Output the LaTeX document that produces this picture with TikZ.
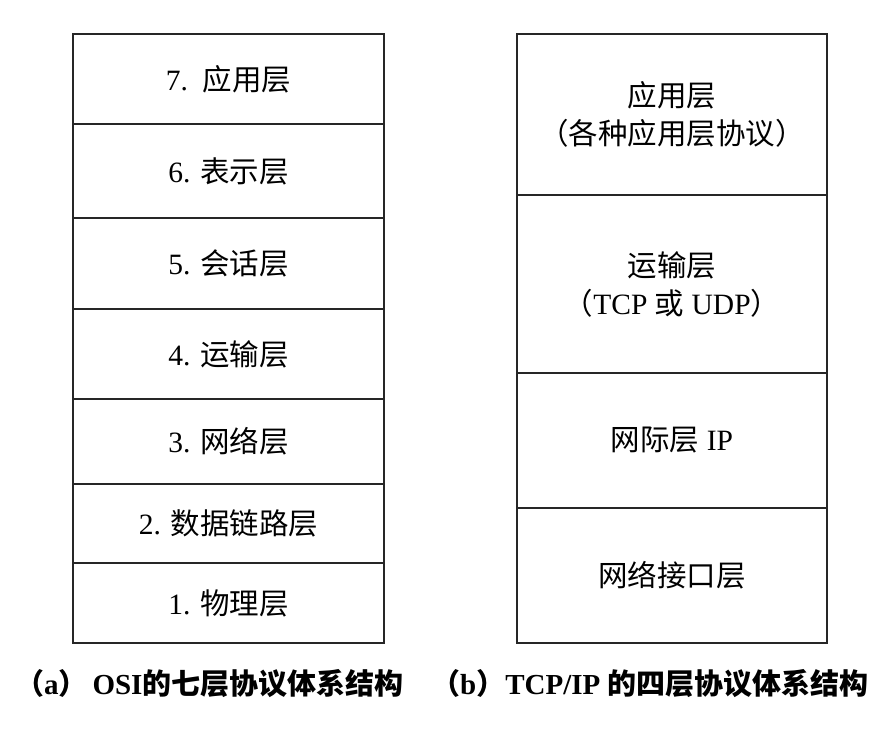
\documentclass[tikz,border=0pt]{standalone}
\usepackage{fontspec}
\setmainfont{Liberation Serif}
\newfontfamily\cjk{Noto Sans CJK SC}
\begin{document}
\begin{tikzpicture}[x=1pt,y=-1pt]
    \tikzset{
        layer/.style={draw=black!85, line width=2pt, minimum width=311pt, inner sep=0pt, align=center, font=\fontsize{29.5}{38}\selectfont},
        caption/.style={anchor=west, inner sep=0pt, font=\fontsize{29}{34}\selectfont\bfseries}
    }
    \useasboundingbox (0,0) rectangle (894,734);

    % OSI
    \foreach \n/\y/\h/\txt in {%
        osi7/79/90/{7.\ \ \cjk 应用层},
        osi6/171/94/{6. \cjk 表示层},
        osi5/263.5/91/{5. \cjk 会话层},
        osi4/354/90/{4. \cjk 运输层},
        osi3/441.5/85/{3. \cjk 网络层},
        osi2/523.5/79/{2. \cjk 数据链路层},
        osi1/603/80/{1. \cjk 物理层}%
    }{
    \draw node[layer, minimum height=\h pt] (\n) at (228.5,\y) {\txt};
    }

    % TCP/IP
    \draw node[layer, minimum width=310pt, minimum height=161pt] (app) at (672,114.5) {{\cjk 应用层}\\{\cjk （各种应用层协议）}};
    \draw node[layer, minimum width=310pt, minimum height=178pt] (trans) at (672,284) {{\cjk 运输层}\\{\cjk （}TCP {\cjk 或} UDP{\cjk ）}};
    \draw node[layer, minimum width=310pt, minimum height=135pt] (inet) at (672,440.5) {{\cjk 网际层} IP};
    \draw node[layer, minimum width=310pt, minimum height=135pt] (link) at (672,575.5) {\cjk 网络接口层};

    \node[caption] (capa) at (15,684) {{\cjk （}a{\cjk ）}\,OSI{\cjk 的七层协议体系结构}};
    \node[caption] (capb) at (431,684) {{\cjk （}b{\cjk ）}TCP/IP {\cjk 的四层协议体系结构}};
\end{tikzpicture}
\end{document}
